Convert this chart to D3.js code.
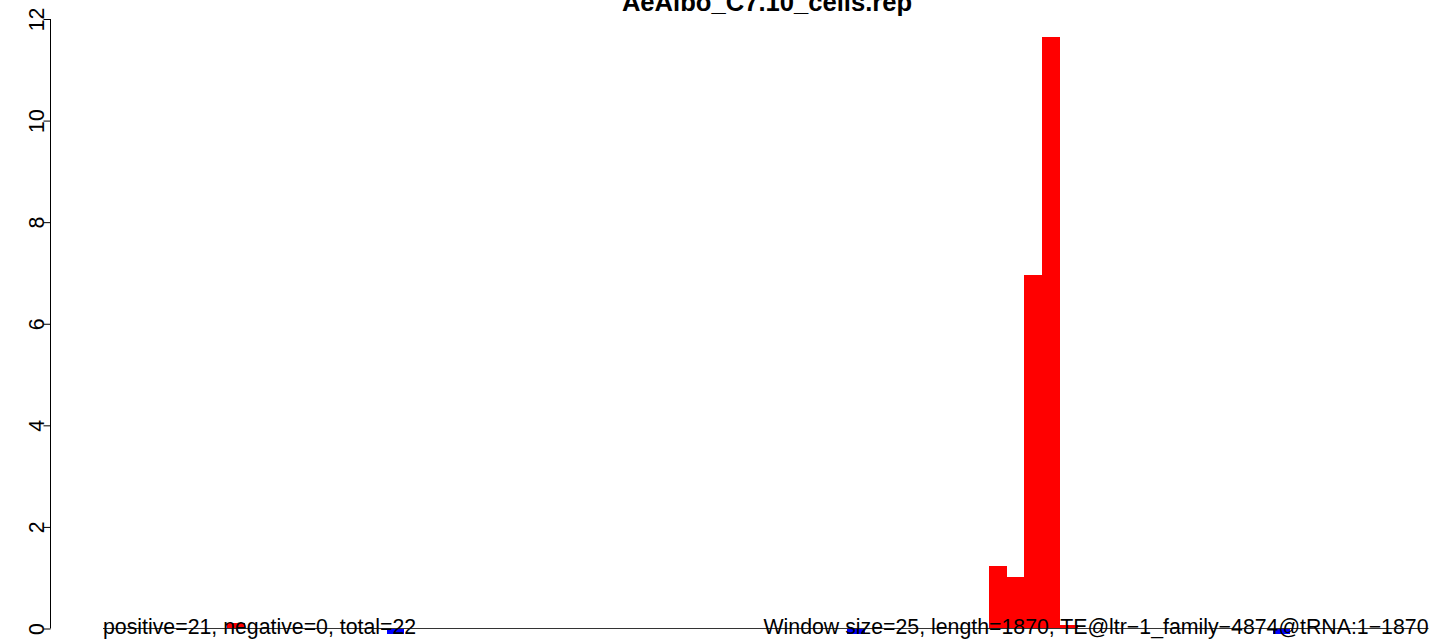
<!DOCTYPE html>
<html><head><meta charset="utf-8">
<script src="https://cdn.jsdelivr.net/npm/d3@7"></script>
<style>html,body{margin:0;padding:0;background:#fff;}svg{display:block;}</style>
</head><body>
<svg id="chart" width="1429" height="639"></svg>
<script>
const title = "AeAlbo_C7.10_cells.rep";
const seqLength = 1870;
const windowSize = 25;
// positive-strand windows (start position, value)
const posStarts = [175, 1250, 1275, 1300, 1325, 1350];
const posValues = [0.1, 1.23, 1.02, 6.96, 11.64, 0.06];
// negative-strand windows (start position, value)
const negStarts = [400, 1050, 1650];
const negValues = [0.1, 0.1, 0.1];
const yTicks = [0, 2, 4, 6, 8, 10, 12];
const leftNote = "positive=21, negative=0, total=22";
const rightNote = "Window size=25, length=1870, TE@ltr\u22121_family\u22124874@tRNA:1\u22121870";

const svg = d3.select("#chart");
const font = "'Liberation Sans', Arial, Helvetica, sans-serif";
const x = d3.scaleLinear().domain([0, seqLength]).range([103, 1428.5]);
const y = d3.scaleLinear().domain([0, 12]).range([628.5, 19]);

// bars
svg.append("g").attr("shape-rendering", "crispEdges").selectAll("rect")
  .data(posStarts.map((s, i) => ({s, v: posValues[i]})))
  .join("rect")
  .attr("x", d => x(d.s)).attr("width", d => x(d.s + windowSize) - x(d.s) + 0.5)
  .attr("y", d => y(d.v)).attr("height", d => y(0) - y(d.v))
  .attr("fill", "#ff0000");
svg.append("g").attr("shape-rendering", "crispEdges").selectAll("rect")
  .data(negStarts.map((s, i) => ({s, v: negValues[i]})))
  .join("rect")
  .attr("x", d => x(d.s)).attr("width", d => x(d.s + windowSize) - x(d.s))
  .attr("y", y(0)).attr("height", d => y(-d.v) - y(0))
  .attr("fill", "#0000ff");

// baseline
svg.append("line").attr("x1", x(0)).attr("x2", x(seqLength))
  .attr("y1", y(0)).attr("y2", y(0)).attr("stroke", "#333").attr("stroke-width", 1);

// y axis
const yAxis = d3.axisLeft(y).tickValues(yTicks).tickSize(7).tickPadding(0).tickFormat(d3.format("d"));
const ga = svg.append("g").attr("transform", "translate(50.5,0)").call(yAxis);
ga.select(".domain").attr("d", `M0,${y(0)}V${y(12)}`).attr("stroke", "#000");
ga.selectAll(".tick line").attr("stroke", "#000");
ga.selectAll(".tick text").attr("font-family", font).attr("font-size", 21.3).attr("fill", "#000")
  .attr("text-anchor", "middle").attr("dy", null).attr("x", null)
  .attr("transform", "translate(-14,0) rotate(-90)").attr("dominant-baseline", "central");

// notes
svg.append("text").attr("x", x(0)).attr("y", y(0) + 5).attr("font-family", font).attr("font-size", 21.3)
  .attr("text-anchor", "start").text(leftNote);
svg.append("text").attr("x", x(seqLength)).attr("y", y(0) + 5).attr("font-family", font).attr("font-size", 21.3)
  .attr("text-anchor", "end").text(rightNote);

// title
svg.append("text").attr("x", 767).attr("y", 11).attr("font-family", font).attr("font-size", 25.6)
  .attr("font-weight", "bold").attr("text-anchor", "middle").text(title);
</script>
</body></html>
